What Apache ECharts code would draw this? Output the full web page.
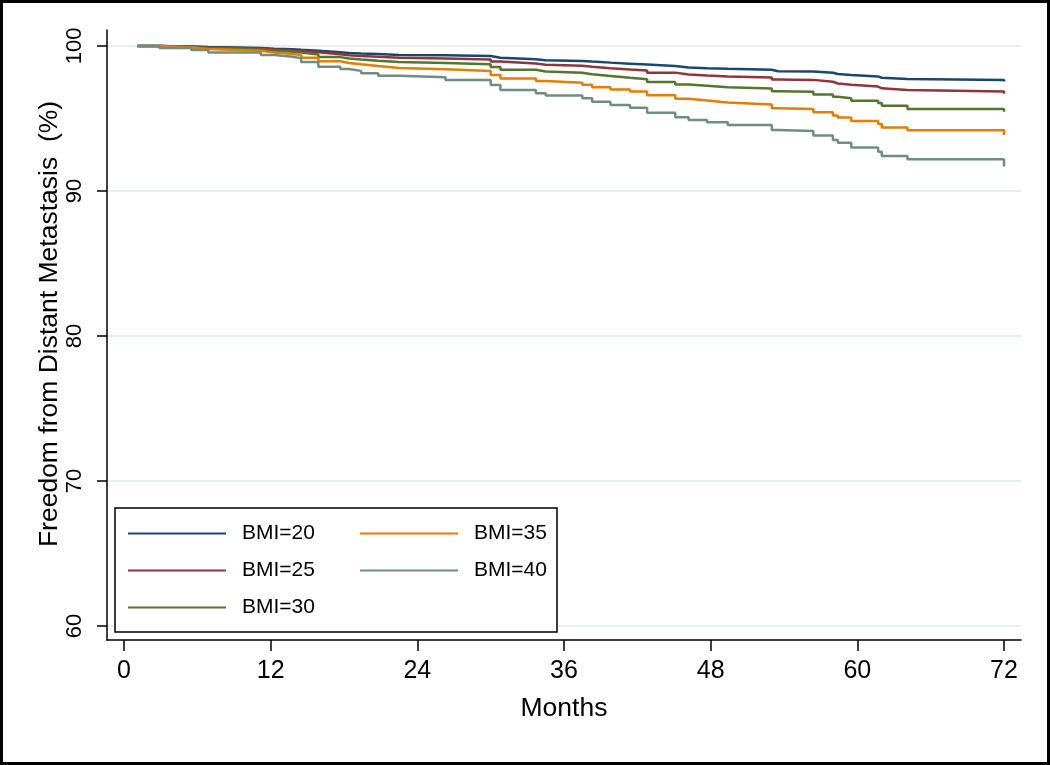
<!DOCTYPE html>
<html><head><meta charset="utf-8">
<script src="https://cdn.jsdelivr.net/npm/echarts@6/dist/echarts.min.js"></script>
<style>html,body{margin:0;padding:0;background:#fff}#c{width:1050px;height:765px}</style>
</head><body><div id="c"></div>
<script>
const months = [1.1, 2.9, 5.5, 6.9, 11.2, 12.3, 13.8, 14.5, 15.9, 17.7, 18.4, 19.4, 20.8, 22.5, 26.3, 30.0, 30.8, 33.7, 34.5, 37.5, 38.3, 39.8, 41.4, 42.8, 45.1, 46.2, 47.7, 49.4, 53.0, 53.5, 56.4, 58.0, 58.4, 59.5, 61.7, 62.0, 64.1, 72.0];
const bmi20 = [100, 99.96, 99.92, 99.86, 99.81, 99.78, 99.74, 99.67, 99.57, 99.52, 99.48, 99.44, 99.38, 99.35, 99.30, 99.19, 99.09, 99.02, 98.97, 98.92, 98.85, 98.78, 98.72, 98.62, 98.52, 98.47, 98.42, 98.36, 98.26, 98.24, 98.15, 98.06, 98.00, 97.90, 97.81, 97.72, 97.66, 97.54];
const bmi25 = [100, 99.94, 99.89, 99.82, 99.75, 99.70, 99.66, 99.56, 99.43, 99.36, 99.31, 99.25, 99.18, 99.14, 99.06, 98.92, 98.79, 98.70, 98.63, 98.56, 98.46, 98.37, 98.30, 98.16, 98.03, 97.96, 97.89, 97.82, 97.68, 97.66, 97.53, 97.41, 97.33, 97.20, 97.08, 96.96, 96.85, 96.71];
const bmi30 = [100, 99.92, 99.85, 99.76, 99.67, 99.60, 99.54, 99.41, 99.23, 99.14, 99.07, 98.98, 98.89, 98.83, 98.74, 98.54, 98.36, 98.24, 98.15, 98.05, 97.93, 97.80, 97.70, 97.52, 97.34, 97.25, 97.15, 97.06, 96.87, 96.84, 96.66, 96.50, 96.40, 96.22, 96.06, 95.88, 95.66, 95.47];
const bmi35 = [100, 99.90, 99.79, 99.67, 99.54, 99.45, 99.37, 99.19, 98.94, 98.82, 98.73, 98.61, 98.48, 98.40, 98.27, 98.00, 97.76, 97.59, 97.47, 97.33, 97.16, 96.99, 96.85, 96.60, 96.36, 96.23, 96.10, 95.97, 95.71, 95.66, 95.43, 95.20, 95.06, 94.82, 94.61, 94.38, 94.19, 93.86];
const bmi40 = [100, 99.86, 99.72, 99.55, 99.38, 99.26, 99.15, 98.90, 98.57, 98.41, 98.28, 98.12, 97.95, 97.84, 97.66, 97.30, 96.97, 96.74, 96.58, 96.39, 96.16, 95.93, 95.74, 95.40, 95.08, 94.90, 94.73, 94.55, 94.20, 94.14, 93.82, 93.52, 93.33, 93.00, 92.71, 92.41, 92.18, 91.68];
const seriesNames = ['BMI=20', 'BMI=25', 'BMI=30', 'BMI=35', 'BMI=40'];
const seriesValues = [bmi20, bmi25, bmi30, bmi35, bmi40];
const seriesColors = ['#1a476f', '#90353b', '#55752f', '#e37e00', '#6e8e84'];
const xTicks = [0, 12, 24, 36, 48, 60, 72];
const yTicks = [60, 70, 80, 90, 100];
const legendColumn1 = ['BMI=20', 'BMI=25', 'BMI=30'];
const legendColumn2 = ['BMI=35', 'BMI=40'];

const FONT = '"Liberation Sans", Arial, Helvetica, sans-serif';
const chart = echarts.init(document.getElementById('c'), null, {renderer: 'canvas'});

const series = seriesNames.map((name, k) => ({
  name: name,
  type: 'line',
  step: 'end',
  showSymbol: false,
  symbol: 'none',
  lineStyle: {color: seriesColors[k], width: 2.5},
  itemStyle: {color: seriesColors[k]},
  data: months.map((m, i) => [m, seriesValues[k][i]]),
  z: 3
}));

const legendBase = {
  show: true,
  orient: 'vertical',
  top: 523,
  padding: 0,
  itemWidth: 98, itemHeight: 14, itemGap: 16,
  icon: 'path://M0,6L98,6L98,8L0,8Z',
  textStyle: {fontSize: 21, color: '#000', fontFamily: FONT, padding: [0, 0, 0, 11]},
  selectedMode: false
};

chart.setOption({
  animation: false,
  backgroundColor: '#fff',
  textStyle: {fontFamily: FONT},
  grid: {left: 107, right: 29, top: 30, bottom: 125, containLabel: false},
  xAxis: {
    type: 'value', min: -1.39, max: 73.39,
    axisLine: {onZero: false, lineStyle: {color: '#000', width: 1.5}},
    axisTick: {show: true, length: 11, customValues: xTicks, lineStyle: {color: '#000', width: 1.5}},
    axisLabel: {customValues: xTicks, fontSize: 25, color: '#000', margin: 19, fontFamily: FONT},
    splitLine: {show: false},
    name: 'Months', nameLocation: 'middle', nameGap: 55, nameMoveOverlap: false,
    nameTextStyle: {fontSize: 26.5, color: '#000', fontFamily: FONT}
  },
  yAxis: {
    type: 'value', min: 59.03, max: 101.1,
    axisLine: {onZero: false, lineStyle: {color: '#000', width: 1.5}},
    axisTick: {show: true, length: 10, customValues: yTicks, lineStyle: {color: '#000', width: 1.5}},
    axisLabel: {customValues: yTicks, rotate: 90, fontSize: 22, color: '#000', margin: 21, fontFamily: FONT},
    splitLine: {show: true, lineStyle: {color: '#e6eef0', width: 2}},
    name: 'Freedom from Distant Metastasis  (%)', nameLocation: 'middle', nameGap: 44, nameMoveOverlap: false,
    nameTextStyle: {fontSize: 26.5, color: '#000', fontFamily: FONT, padding: [0, 0, 0, 22]}
  },
  legend: [
    Object.assign({}, legendBase, {left: 128, data: legendColumn1}),
    Object.assign({}, legendBase, {left: 360, data: legendColumn2})
  ],
  graphic: [
    {type: 'rect', shape: {x: 115, y: 508, width: 442, height: 124}, style: {fill: '#fff', stroke: '#000', lineWidth: 1.5}, z: 4, silent: true},
    {type: 'rect', shape: {x: 1.5, y: 1.5, width: 1047, height: 762}, style: {fill: null, stroke: '#000', lineWidth: 3}, z: 10, silent: true}
  ],
  series: series
});
</script></body></html>
